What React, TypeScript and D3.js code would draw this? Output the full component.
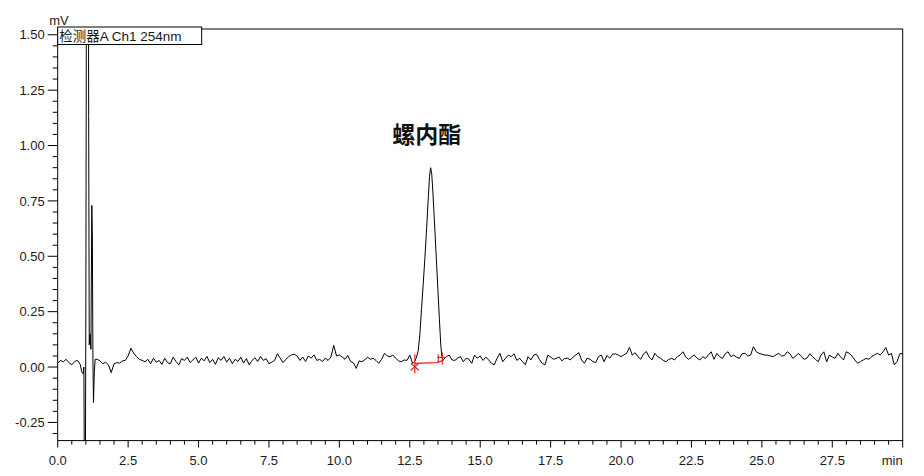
import React from 'react';
import * as d3 from 'd3';

// ---------- data ----------
const xTickValues = [0, 2.5, 5, 7.5, 10, 12.5, 15, 17.5, 20, 22.5, 25, 27.5];
const xTickLabels = ['0.0', '2.5', '5.0', '7.5', '10.0', '12.5', '15.0', '17.5', '20.0', '22.5', '25.0', '27.5'];
const yTickValues = [-0.25, 0, 0.25, 0.5, 0.75, 1.0, 1.25, 1.5];
const yTickLabels = ['-0.25', '0.00', '0.25', '0.50', '0.75', '1.00', '1.25', '1.50'];

const xUnit = 'min';
const yUnit = 'mV';
const channelLabel = '检测器A Ch1 254nm';
const peakName = '螺内酯';
const peakLabelPos = [13.1, 1.01];

// baseline segment A: t = 0.0 .. 0.8 step 0.1
const baselineAStart = 0.0;
const baselineA = [0.017, 0.030, 0.024, 0.035, 0.020, 0.010, 0.025, 0.030, 0.012];

// solvent front [t, mV]
const solventFront: [number, number][] = [
  [0.85, -0.02], [0.9, -0.03], [0.93, 0.0], [0.95, -0.6], [0.98, -0.6], [1.0, 0.29],
  [1.03, 2.5], [1.08, 2.5], [1.1, 1.13], [1.12, 0.1], [1.15, 0.15], [1.18, 0.08],
  [1.21, 0.73], [1.23, 0.6], [1.25, 0.05], [1.27, -0.16], [1.3, -0.02], [1.33, 0.035],
];

// baseline segment B: t = 1.4 .. 12.6 step 0.1
const baselineBStart = 1.4;
const baselineB = [
  0.035, 0.028, 0.015, 0.022, 0.010, -0.025, 0.015, 0.020, 0.018, 0.028,
  0.030, 0.050, 0.085, 0.062, 0.047, 0.035, 0.030, 0.024, 0.035, 0.015,
  0.040, 0.022, 0.030, 0.012, 0.040, 0.020, 0.015, 0.045, 0.025, 0.010,
  0.038, 0.030, 0.045, 0.020, 0.032, 0.045, 0.018, 0.040, 0.028, 0.048,
  0.020, 0.035, 0.012, 0.042, 0.030, 0.048, 0.022, 0.040, 0.015, 0.035,
  0.025, 0.045, 0.018, 0.038, 0.010, 0.030, 0.042, 0.025, 0.048, 0.030,
  0.038, 0.015, 0.022, 0.030, 0.060, 0.040, 0.020, 0.035, 0.047, 0.055,
  0.058, 0.050, 0.030, 0.045, 0.025, 0.050, 0.040, 0.055, 0.030, 0.035,
  0.025, 0.040, 0.030, 0.045, 0.098, 0.050, 0.055, 0.045, 0.035, 0.052,
  0.025, 0.018, -0.006, 0.028, 0.024, 0.032, 0.045, 0.035, 0.040, 0.030,
  0.017, 0.035, 0.062, 0.050, 0.047, 0.054, 0.040, 0.028, 0.024, 0.032,
  0.030, 0.054, 0.017,
];

// main peak [t, mV]
const peakPoints: [number, number][] = [
  [12.64, 0.02], [12.68, 0.027], [12.74, 0.045], [12.8, 0.075], [12.86, 0.15], [12.92, 0.27],
  [12.98, 0.38], [13.04, 0.5], [13.1, 0.63], [13.16, 0.77], [13.2, 0.86], [13.24, 0.9],
  [13.28, 0.87], [13.32, 0.79], [13.37, 0.67], [13.43, 0.52], [13.49, 0.37], [13.55, 0.22],
  [13.6, 0.1], [13.64, 0.045], [13.68, 0.03],
];

// baseline segment C: t = 13.7 .. 30.0 step 0.1
const baselineCStart = 13.7;
const baselineC = [
  0.035, 0.047, 0.054, 0.032, 0.030, 0.040, 0.047, 0.024, 0.040, 0.035,
  0.017, 0.054, 0.040, 0.050, 0.030, 0.045, 0.032, 0.017, 0.010, 0.040,
  0.062, 0.024, 0.040, 0.054, 0.047, 0.060, 0.030, 0.040, 0.025, 0.010,
  0.047, 0.032, 0.054, 0.058, 0.035, 0.017, 0.010, 0.054, 0.045, 0.035,
  0.040, 0.045, 0.028, 0.039, 0.040, 0.032, 0.045, 0.055, 0.065, 0.032,
  0.017, 0.040, 0.035, 0.025, 0.020, 0.047, 0.054, 0.024, 0.052, 0.040,
  0.058, 0.060, 0.054, 0.047, 0.055, 0.062, 0.089, 0.054, 0.065, 0.047,
  0.035, 0.060, 0.070, 0.045, 0.032, 0.062, 0.047, 0.040, 0.030, 0.024,
  0.035, 0.039, 0.032, 0.047, 0.055, 0.069, 0.045, 0.035, 0.045, 0.054,
  0.040, 0.032, 0.047, 0.039, 0.055, 0.069, 0.035, 0.062, 0.047, 0.039,
  0.060, 0.069, 0.047, 0.054, 0.045, 0.039, 0.060, 0.062, 0.050, 0.054,
  0.092, 0.069, 0.062, 0.058, 0.054, 0.054, 0.050, 0.047, 0.055, 0.062,
  0.050, 0.052, 0.069, 0.060, 0.039, 0.050, 0.062, 0.047, 0.035, 0.040,
  0.060, 0.047, 0.035, 0.024, 0.054, 0.069, 0.024, 0.054, 0.045, 0.039,
  0.062, 0.045, 0.032, 0.069, 0.062, 0.050, 0.032, 0.017, 0.025, 0.032,
  0.039, 0.035, 0.047, 0.055, 0.062, 0.054, 0.069, 0.088, 0.054, 0.062,
  0.010, 0.025, 0.060, 0.062,
];

// integration baseline (red) [t, mV]
const integrationBaseline: [number, number][] = [[12.68, 0.017], [13.45, 0.02], [13.69, 0.03]];

// ---------- layout ----------
const W = 924;
const H = 476;
const plotLeft = 57.7;
const plotRight = 902.7;
const plotTop = 29;
const plotBottom = 440.6;
const xDomain: [number, number] = [0, 30];
const yDomain: [number, number] = [-0.332, 1.526];
const FONT = '"Liberation Sans", Arial, "Noto Sans CJK SC", sans-serif';
const TEXT_COLOR = '#1a1a1a';

function seg(start: number, vals: number[]): [number, number][] {
  return vals.map((v, i) => [+(start + i * 0.1).toFixed(2), v] as [number, number]);
}

export default function App() {
  const x = d3.scaleLinear().domain(xDomain).range([plotLeft, plotRight]);
  const y = d3.scaleLinear().domain(yDomain).range([plotBottom, plotTop]);

  const series: [number, number][] = [
    ...seg(baselineAStart, baselineA),
    ...solventFront,
    ...seg(baselineBStart, baselineB),
    ...peakPoints,
    ...seg(baselineCStart, baselineC),
  ].sort((a, b) => a[0] - b[0]);

  const line = d3.line<[number, number]>().x((d) => x(d[0])).y((d) => y(d[1]));

  const xMinor = d3.range(0, 30.001, 0.5).filter((t) => Math.abs(t / 2.5 - Math.round(t / 2.5)) > 1e-6);
  const xMajor = [...xTickValues, 30];
  const yMinor = d3.range(-0.3, 1.5001, 0.05).filter((v) => Math.abs(v / 0.25 - Math.round(v / 0.25)) > 1e-6);

  const sx = x(integrationBaseline[0][0]);
  const sy = y(integrationBaseline[0][1]);
  const ex = x(integrationBaseline[integrationBaseline.length - 1][0]);
  const ey = y(integrationBaseline[integrationBaseline.length - 1][1]);

  return (
    <svg
      width={W}
      height={H}
      style={{ position: 'fixed', left: 0, top: 0, background: '#fff' }}
      fontFamily={FONT}
    >
      <defs>
        <clipPath id="plotClip">
          <rect x={plotLeft} y={plotTop} width={plotRight - plotLeft} height={plotBottom - plotTop} />
        </clipPath>
      </defs>
      <rect x={0} y={0} width={W} height={H} fill="#fff" />

      {/* chromatogram */}
      <path d={line(series) || ''} fill="none" stroke="#000" strokeWidth={1} clipPath="url(#plotClip)" />

      {/* integration baseline & markers */}
      <g stroke="#e8231e" strokeWidth={1.2} fill="none">
        <path d={line(integrationBaseline) || ''} />
        <line x1={sx} y1={sy - 9} x2={sx} y2={sy + 10} />
        <line x1={sx - 4} y1={sy} x2={sx + 4} y2={sy + 7} />
        <line x1={sx - 4} y1={sy + 7} x2={sx + 4} y2={sy} />
        <line x1={ex - 1} y1={ey - 8} x2={ex - 1} y2={ey + 4} />
        <line x1={ex - 6} y1={ey - 3} x2={ex + 2} y2={ey - 3} />
        <line x1={ex - 5} y1={ey - 6} x2={ex - 5} y2={ey + 2} />
      </g>

      {/* frame */}
      <rect
        x={plotLeft}
        y={plotTop}
        width={plotRight - plotLeft}
        height={plotBottom - plotTop}
        fill="none"
        stroke="#000"
        strokeWidth={1}
      />

      {/* ticks */}
      <g stroke="#000" strokeWidth={1}>
        {yTickValues.map((v) => (
          <line key={'ym' + v} x1={plotLeft - 10} x2={plotLeft} y1={y(v)} y2={y(v)} />
        ))}
        {yMinor.map((v) => (
          <line key={'yn' + v.toFixed(2)} x1={plotLeft - 5} x2={plotLeft} y1={y(v)} y2={y(v)} />
        ))}
        {xMajor.map((t) => (
          <line key={'xm' + t} x1={x(t)} x2={x(t)} y1={plotBottom} y2={plotBottom + 7} />
        ))}
        {xMinor.map((t) => (
          <line key={'xn' + t} x1={x(t)} x2={x(t)} y1={plotBottom} y2={plotBottom + 4} />
        ))}
      </g>

      {/* y tick labels */}
      <g fontSize={13} fill={TEXT_COLOR} textAnchor="end">
        {yTickValues.map((v, i) => (
          <text key={'yl' + v} x={plotLeft - 13} y={y(v)} dy="0.36em">
            {yTickLabels[i]}
          </text>
        ))}
      </g>

      {/* x tick labels */}
      <g fontSize={13} fill={TEXT_COLOR} textAnchor="middle">
        {xTickValues.map((t, i) => (
          <text key={'xl' + t} x={x(t)} y={465}>
            {xTickLabels[i]}
          </text>
        ))}
        <text x={plotRight} y={465} textAnchor="end">
          {xUnit}
        </text>
      </g>

      {/* y unit */}
      <text x={59} y={25} fontSize={13} fill={TEXT_COLOR} textAnchor="middle">
        {yUnit}
      </text>

      {/* channel label box */}
      <rect x={plotLeft} y={plotTop - 2} width={144} height={17.5} fill="#fff" stroke="#000" strokeWidth={1} />
      <text x={plotLeft + 1.5} y={plotTop + 12} fontSize={13.5} fill={TEXT_COLOR}>
        {channelLabel}
      </text>

      {/* peak label */}
      <text
        x={x(peakLabelPos[0])}
        y={y(peakLabelPos[1])}
        fontSize={23}
        fontWeight="bold"
        fill="#111"
        textAnchor="middle"
        fontFamily='"Noto Sans CJK SC", sans-serif'
      >
        {peakName}
      </text>
    </svg>
  );
}
